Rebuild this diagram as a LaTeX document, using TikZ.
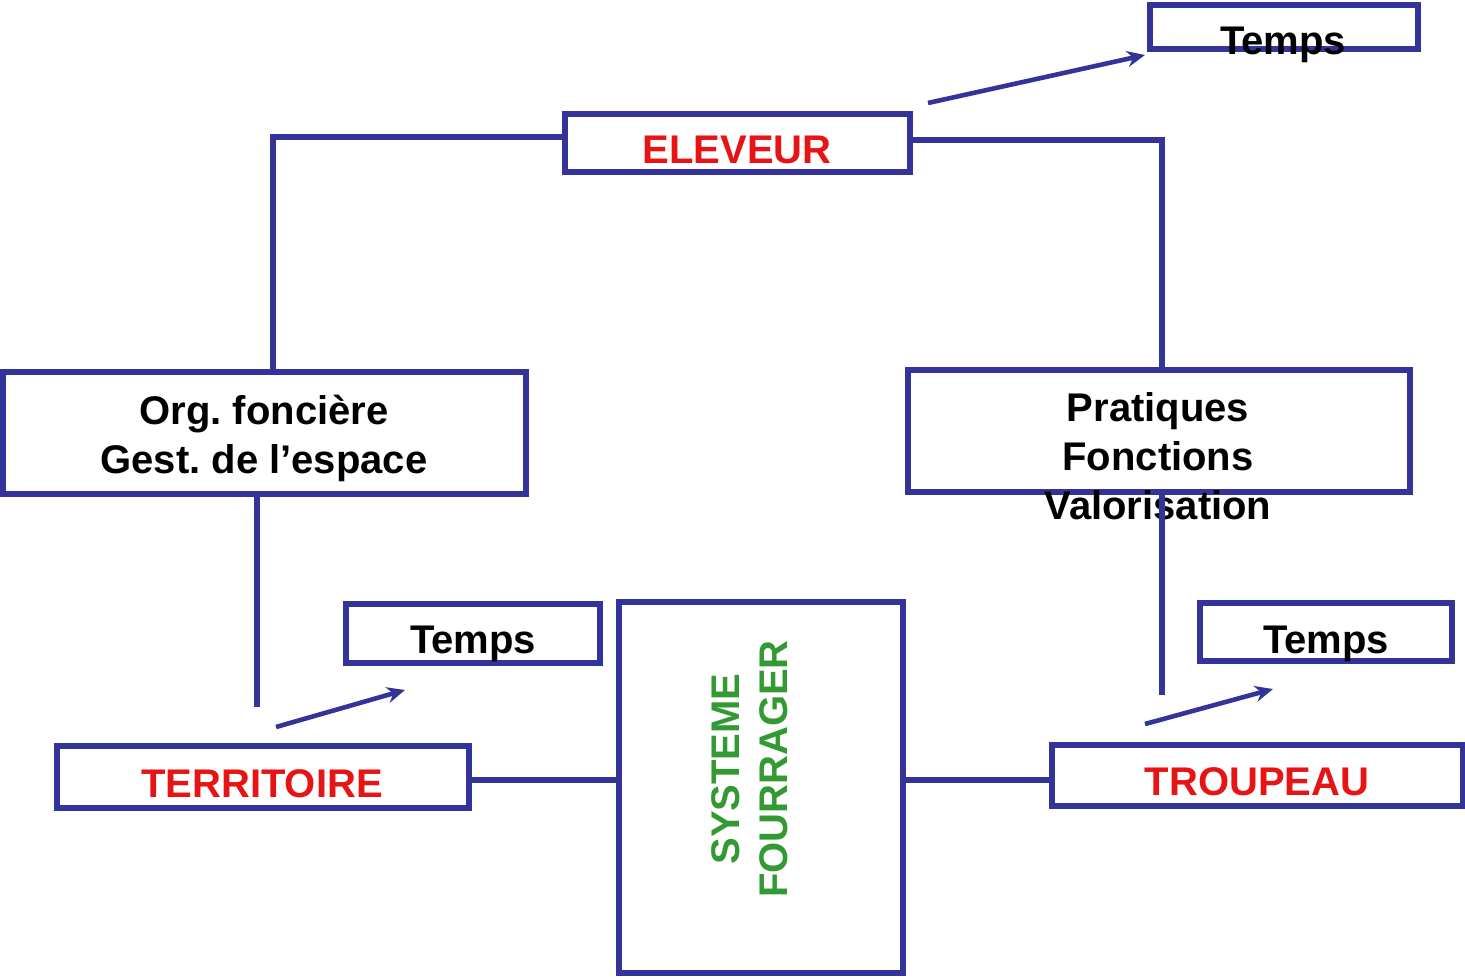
\documentclass[tikz,border=0pt]{standalone}
\usepackage{fontspec}
\setmainfont{Liberation Sans}
\frenchspacing
\usetikzlibrary{fit,arrows.meta}
\definecolor{lineblue}{RGB}{51,51,153}
\definecolor{tred}{RGB}{230,20,20}
\definecolor{tgreen}{RGB}{51,153,51}
\tikzset{
  box/.style={draw=lineblue, line width=2.8pt, inner sep=0pt, rectangle},
  conn/.style={draw=lineblue, line width=2.8pt},
  arr/.style={draw=lineblue, line width=2.3pt, -{Stealth[length=9pt,width=8pt]}},
  lbl/.style={font=\bfseries\fontsize{20}{24}\selectfont, inner sep=0pt, anchor=base},
  red lbl/.style={lbl, text=tred},
}
\begin{document}
\begin{tikzpicture}[x=0.5pt,y=-0.5pt]
\useasboundingbox (0,0) rectangle (1465,979);
% boxes
\node[box, fit={(565,114) (910,172)}] (elev) {};
\node[box, fit={(1150,5) (1418,49)}] (t1) {};
\node[box, fit={(3,372) (526,494)}] (org) {};
\node[box, fit={(908,370) (1410,492)}] (prat) {};
\node[box, fit={(346,604) (600,663)}] (t2) {};
\node[box, fit={(57,746) (469,808)}] (terr) {};
\node[box, fit={(619,602) (903,973)}] (sys) {};
\node[box, fit={(1200,603) (1452,661)}] (t3) {};
\node[box, fit={(1052,745) (1463,806)}] (troup) {};
% labels
\node[red lbl] (elevl) at (737,163) {ELEVEUR};
\node[lbl] (t1l) at (1283,55) {Temps};
\node[lbl] (org1) at (264,424) {Org. foncière};
\node[lbl] (org2) at (264,473) {Gest. de l’espace};
\node[lbl] (prat1) at (1158,421) {Pratiques};
\node[lbl] (prat2) at (1158,470) {Fonctions};
\node[lbl] (prat3) at (1158,519) {Valorisation};
\node[lbl] (t2l) at (473,653) {Temps};
\node[red lbl] (terrl) at (262,797) {TERRITOIRE};
\node[lbl] (t3l) at (1326,653) {Temps};
\node[red lbl] (troupl) at (1257,795) {TROUPEAU};
\node[font=\bfseries\fontsize{20}{24}\selectfont, text=tgreen, inner sep=0pt, rotate=90, align=center] (sysl) at (750,769) {SYSTEME\\FOURRAGER};
% connector coordinates
\coordinate (a1) at (273,137);
\coordinate (a2) at (1162,140);
\coordinate (a3) at (1162,695);
\coordinate (a4) at (257,707);
\coordinate (h) at (0,780);
\coordinate (s1) at (928,103);
\coordinate (e1) at (1145,55);
\coordinate (s2) at (276,727);
\coordinate (e2) at (405,690);
\coordinate (s3) at (1145,724);
\coordinate (e3) at (1273,689);
% connectors
\draw[conn] (elev.west |- a1) -- (a1) -- (a1 |- org.north);
\draw[conn] (elev.east |- a2) -- (a2) -- (a2 |- prat.north);
\draw[conn] (a3 |- prat.south) -- (a3);
\draw[conn] (a4 |- org.south) -- (a4);
\draw[conn] (terr.east |- h) -- (sys.west |- h);
\draw[conn] (sys.east |- h) -- (troup.west |- h);
\draw[arr] (s1) -- (e1);
\draw[arr] (s2) -- (e2);
\draw[arr] (s3) -- (e3);
\end{tikzpicture}
\end{document}
